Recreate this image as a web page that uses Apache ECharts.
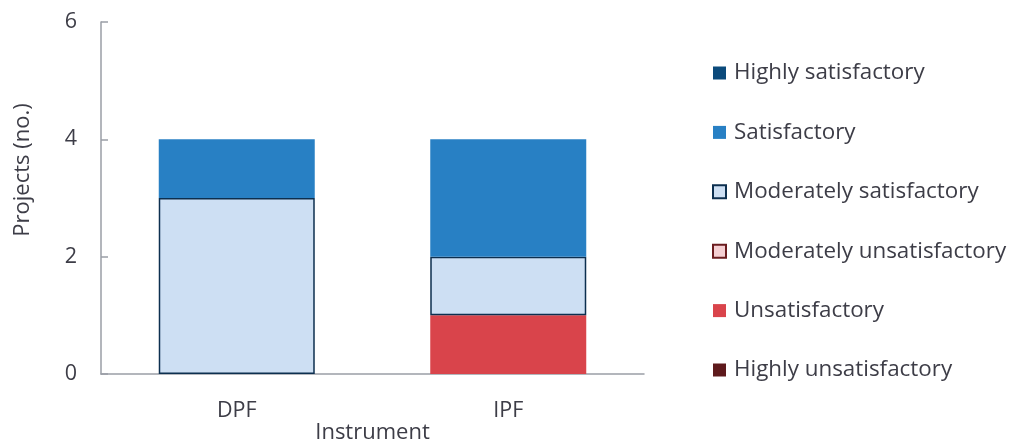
<!DOCTYPE html>
<html>
<head>
<meta charset="utf-8">
<script src="https://cdn.jsdelivr.net/npm/echarts@6/dist/echarts.min.js"></script>
<style>
  html, body { margin: 0; padding: 0; background: #fff; }
  #chart { width: 1011px; height: 443px; }
</style>
</head>
<body>
<div id="chart"></div>
<script>
// Project ratings by instrument
const categories = ['DPF', 'IPF'];
const ratingNames = [
  'Highly unsatisfactory',
  'Unsatisfactory',
  'Moderately unsatisfactory',
  'Moderately satisfactory',
  'Satisfactory',
  'Highly satisfactory'
];
const highlyUnsatisfactory = [0, 0];
const unsatisfactory = [0, 1];
const moderatelyUnsatisfactory = [0, 0];
const moderatelySatisfactory = [3, 1];
const satisfactory = [1, 2];
const highlySatisfactory = [0, 0];
const yTicks = [0, 2, 4, 6];

const seriesValues = [
  highlyUnsatisfactory, unsatisfactory, moderatelyUnsatisfactory,
  moderatelySatisfactory, satisfactory, highlySatisfactory
];
const styles = [
  { color: '#5e1a1c' },
  { color: '#d9444b' },
  { color: '#f5cfd2', borderColor: '#6b1c1f', borderWidth: 1.5 },
  { color: '#cddff3', borderColor: '#0c2f4f', borderWidth: 1.5 },
  { color: '#2880c4' },
  { color: '#0b4a7b' }
];

const textColor = '#3d3d47';
const axisColor = '#9a9ea6';
const fontFamily = '"Open Sans", "Noto Sans", sans-serif';

const chart = echarts.init(document.getElementById('chart'), null, { renderer: 'canvas' });
chart.setOption({
  animation: false,
  textStyle: { fontFamily: fontFamily, color: textColor },
  grid: { left: 101, right: 367, top: 22, bottom: 69, containLabel: false, outerBoundsMode: 'none' },
  legend: {
    orient: 'vertical',
    left: 712,
    top: 62,
    padding: 0,
    itemWidth: 13,
    itemHeight: 13,
    itemGap: 37.4,
    icon: 'rect',
    data: ratingNames.slice().reverse(),
    textStyle: { fontSize: 22.4, lineHeight: 22, color: textColor, fontFamily: fontFamily, padding: [0, 0, 0, 3] }
  },
  xAxis: {
    type: 'category',
    data: categories,
    name: 'Instrument',
    nameLocation: 'middle',
    nameGap: 48,
    nameMoveOverlap: false,
    nameTextStyle: { fontSize: 22, color: textColor },
    axisLine: { lineStyle: { color: axisColor, width: 1.5 } },
    axisTick: { inside: true, length: 6, lineStyle: { color: axisColor, width: 1.5 } },
    axisLabel: { fontSize: 21.5, color: textColor, margin: 26 }
  },
  yAxis: {
    type: 'value',
    min: yTicks[0],
    max: yTicks[yTicks.length - 1],
    interval: 2,
    name: 'Projects (no.)',
    nameLocation: 'middle',
    nameGap: 67,
    nameMoveOverlap: false,
    nameTextStyle: { fontSize: 22, color: textColor, padding: [0, 0, 0, 56] },
    axisLine: { show: true, lineStyle: { color: axisColor, width: 1.5 } },
    axisTick: { show: true, inside: true, length: 7, lineStyle: { color: axisColor, width: 1.5 } },
    axisLabel: { fontSize: 21.5, color: textColor, margin: 24 },
    splitLine: { show: false }
  },
  series: ratingNames.map((name, i) => ({
    name: name,
    type: 'bar',
    stack: 'rating',
    barWidth: 156,
    // empty segments are left out so they leave no outline on the baseline
    data: seriesValues[i].map(v => (v === 0 ? '-' : v)),
    itemStyle: styles[i]
  }))
});
</script>
</body>
</html>
